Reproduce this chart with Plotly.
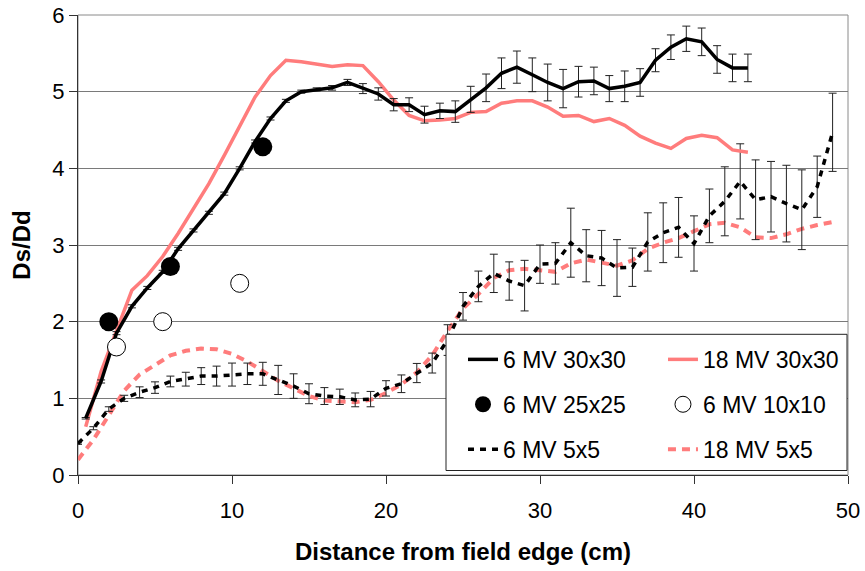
import plotly.graph_objects as go

# ---------------- data ----------------
x_30 = [i + 0.5 for i in range(44)]
y_6mv_30 = [0.74, 1.22, 1.85, 2.20, 2.44, 2.65, 2.95, 3.19, 3.42, 3.67,
            4.00, 4.35, 4.65, 4.88, 5.00, 5.03, 5.05, 5.12, 5.04, 4.97,
            4.83, 4.83, 4.70, 4.75, 4.74, 4.90, 5.05, 5.24, 5.32, 5.22,
            5.12, 5.04, 5.13, 5.14, 5.04, 5.07, 5.12, 5.41, 5.58, 5.69,
            5.65, 5.42, 5.31, 5.31]
err_6mv_30 = [0.01, 0.02, 0.02, 0.02, 0.02, 0.02, 0.02, 0.02, 0.02, 0.02,
              0.02, 0.02, 0.02, 0.02, 0.02, 0.02, 0.03, 0.04, 0.065, 0.08,
              0.08, 0.09, 0.11, 0.10, 0.14, 0.17, 0.18, 0.20, 0.21, 0.22,
              0.24, 0.25, 0.20, 0.18, 0.17, 0.20, 0.18, 0.15, 0.16, 0.165,
              0.18, 0.18, 0.18, 0.18]
y_18mv_30 = [0.63, 1.35, 1.88, 2.41, 2.60, 2.85, 3.15, 3.47, 3.80, 4.17,
             4.55, 4.93, 5.21, 5.41, 5.39, 5.36, 5.33, 5.35, 5.34, 5.13,
             4.89, 4.69, 4.62, 4.63, 4.65, 4.73, 4.74, 4.85, 4.88, 4.88,
             4.80, 4.68, 4.69, 4.61, 4.65, 4.56, 4.42, 4.33, 4.26, 4.39,
             4.43, 4.40, 4.24, 4.21]

x_25 = [2, 6, 12]
y_6mv_25 = [2.0, 2.72, 4.28]
x_10 = [2.5, 5.5, 10.5]
y_6mv_10 = [1.67, 2.0, 2.5]

x_5 = list(range(50))
y_6mv_5 = [0.41, 0.61, 0.86, 1.00, 1.08, 1.14, 1.22, 1.25, 1.29, 1.29,
           1.31, 1.32, 1.32, 1.24, 1.16, 1.06, 1.03, 1.02, 0.98, 0.99,
           1.13, 1.19, 1.33, 1.46, 1.76, 2.20, 2.46, 2.63, 2.53, 2.47,
           2.75, 2.76, 3.03, 2.86, 2.83, 2.70, 2.71, 3.04, 3.16, 3.23,
           3.02, 3.38, 3.57, 3.83, 3.59, 3.63, 3.54, 3.46, 3.76, 4.47]
err_6mv_5 = [0.01, 0.02, 0.03, 0.04, 0.07, 0.075, 0.07, 0.09, 0.11, 0.13,
             0.15, 0.14, 0.15, 0.19, 0.16, 0.13, 0.11, 0.10, 0.09, 0.10,
             0.10, 0.115, 0.125, 0.13, 0.20, 0.18, 0.20, 0.25, 0.25, 0.33,
             0.25, 0.27, 0.45, 0.34, 0.36, 0.37, 0.25, 0.38, 0.39, 0.39,
             0.36, 0.35, 0.45, 0.49, 0.52, 0.46, 0.50, 0.52, 0.40, 0.51]
y_18mv_5 = [0.20, 0.46, 0.78, 1.10, 1.31, 1.43, 1.56, 1.62, 1.65, 1.64,
            1.58, 1.48, 1.35, 1.23, 1.13, 1.03, 0.97, 0.96, 0.95, 0.98,
            1.07, 1.18, 1.34, 1.56, 1.88, 2.17, 2.36, 2.57, 2.67, 2.69,
            2.67, 2.65, 2.76, 2.81, 2.77, 2.73, 2.80, 2.95, 3.03, 3.09,
            3.18, 3.27, 3.29, 3.23, 3.10, 3.09, 3.14, 3.21, 3.26, 3.30]

x_ticks = [0, 10, 20, 30, 40, 50]
y_ticks = [0, 1, 2, 3, 4, 5, 6]

# ---------------- styles ----------------
SALMON = "#FF7C7C"
FONT = "Liberation Sans, Arial, sans-serif"
ERR = dict(type="data", visible=True, thickness=1, width=4, color="#222222")

fig = go.Figure()

fig.add_trace(go.Scatter(
    x=x_5, y=y_18mv_5, mode="lines", name="18 MV 5x5",
    line=dict(color=SALMON, width=4, dash="8px,6px"),
    legend="legend2", legendrank=3, legendgroup="g6"))
fig.add_trace(go.Scatter(
    x=x_5, y=y_6mv_5, mode="lines", name="6 MV 5x5",
    line=dict(color="black", width=3.5, dash="6px,6px"),
    error_y=dict(array=err_6mv_5, **ERR),
    legend="legend", legendrank=3, legendgroup="g5"))
fig.add_trace(go.Scatter(
    x=x_30, y=y_18mv_30, mode="lines", name="18 MV 30x30",
    line=dict(color=SALMON, width=3.5),
    legend="legend2", legendrank=1, legendgroup="g2"))
fig.add_trace(go.Scatter(
    x=x_30, y=y_6mv_30, mode="lines", name="6 MV 30x30",
    line=dict(color="black", width=3.5),
    error_y=dict(array=err_6mv_30, **ERR),
    legend="legend", legendrank=1, legendgroup="g1"))
fig.add_trace(go.Scatter(
    x=x_25, y=y_6mv_25, mode="markers", name="6 MV 25x25",
    marker=dict(symbol="circle", size=19, color="black"),
    legend="legend", legendrank=2, legendgroup="g3"))
fig.add_trace(go.Scatter(
    x=x_10, y=y_6mv_10, mode="markers", name="6 MV 10x10",
    marker=dict(symbol="circle", size=18, color="white",
                line=dict(color="black", width=1)),
    legend="legend2", legendrank=2, legendgroup="g4"))

legend_common = dict(
    bgcolor="rgba(0,0,0,0)", borderwidth=0, orientation="v",
    font=dict(family=FONT, size=23, color="black"),
    tracegroupgap=12, yanchor="top", xanchor="left",
    itemclick=False, itemdoubleclick=False,
)

fig.update_layout(
    width=865, height=571,
    margin=dict(l=78, r=17, t=15, b=96, autoexpand=False),
    paper_bgcolor="white", plot_bgcolor="white",
    font=dict(family=FONT, color="black"),
    showlegend=True,
    legend=dict(x=0.5, y=0.298, **legend_common),
    legend2=dict(x=0.7597, y=0.298, **legend_common),
    xaxis=dict(
        range=[0, 50], tickvals=x_ticks, ticks="outside", ticklen=8,
        tickcolor="#333333", showline=True, linecolor="#333333", linewidth=1,
        showgrid=False, zeroline=False, automargin=False,
        ticklabelstandoff=8, ticklabeloverflow="allow",
        tickfont=dict(family=FONT, size=22, color="black"),
        title=dict(text="<b>Distance from field edge (cm)</b>",
                   font=dict(family=FONT, size=24, color="black"), standoff=20),
    ),
    yaxis=dict(
        range=[0, 6], tickvals=y_ticks, ticks="outside", ticklen=8,
        tickcolor="#333333", showline=True, linecolor="#333333", linewidth=1,
        showgrid=True, gridcolor="#7a7a7a", gridwidth=1, zeroline=False,
        automargin=False, ticklabeloverflow="allow",
        tickfont=dict(family=FONT, size=22, color="black"),
        title=dict(text="<b>Ds/Dd</b>",
                   font=dict(family=FONT, size=24, color="black"), standoff=14),
    ),
    shapes=[
        dict(type="rect", xref="paper", yref="paper", x0=0, x1=1, y0=0, y1=1,
             line=dict(color="#8a8a8a", width=1), layer="below"),
        dict(type="rect", xref="paper", yref="paper",
             x0=(446 - 78) / 770, x1=(847 - 78) / 770,
             y0=(475 - 470.5) / 460, y1=(475 - 334.3) / 460,
             line=dict(color="#222222", width=1), fillcolor="white",
             layer="above"),
    ],
)

# remove the default page margin so the 865x571 figure fills the window
fig.write_html(
    "out.html",
    config={"displayModeBar": False},
    post_script="document.body.style.margin='0';document.body.style.overflow='hidden';",
)
